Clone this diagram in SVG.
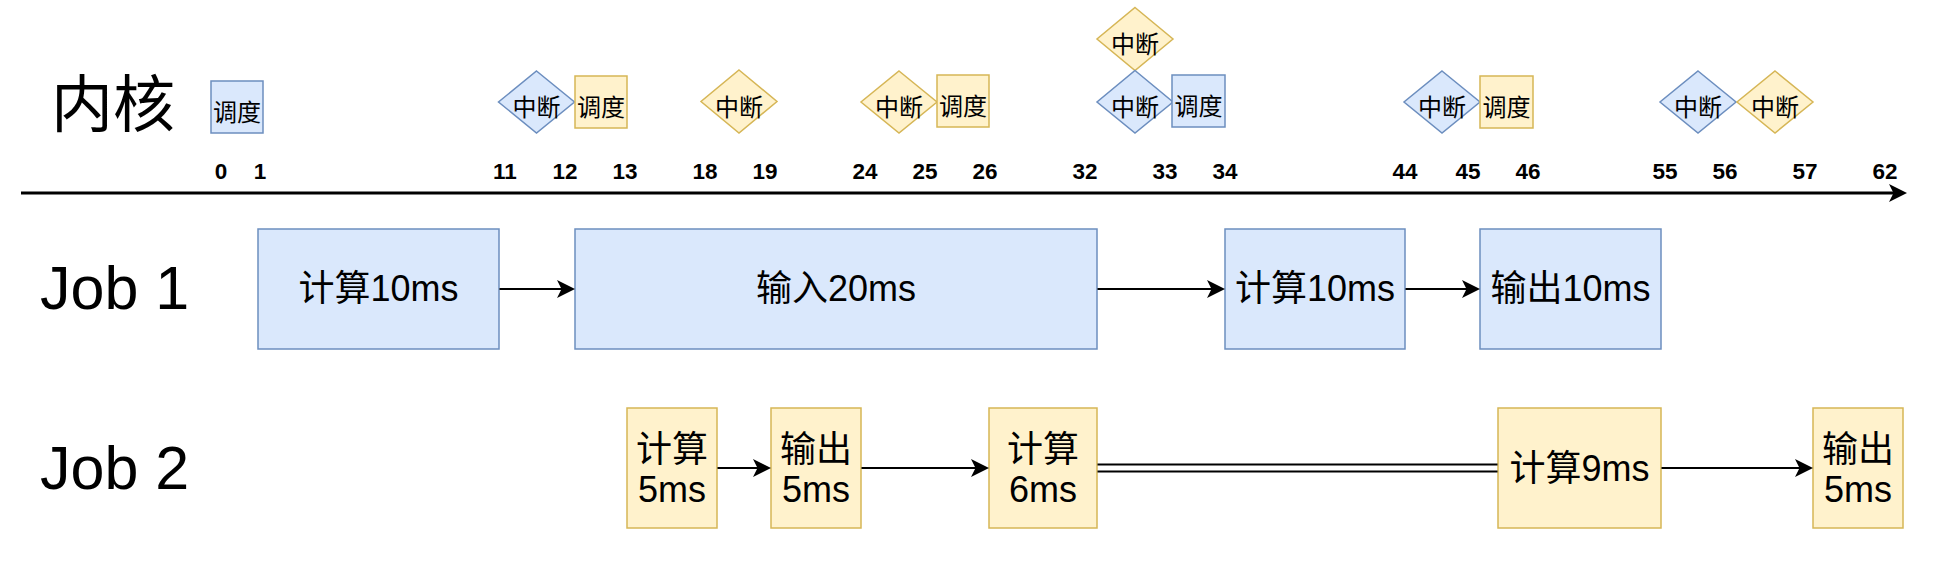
<svg xmlns="http://www.w3.org/2000/svg" width="1951" height="581" viewBox="0 0 1951 581">
<defs>
<style>
.blue{fill:#dae8fc;stroke:#6c8ebf;stroke-width:1.5}
.yel{fill:#fff2cc;stroke:#d6b656;stroke-width:1.5}
.t{font-family:"Liberation Sans","Noto Sans CJK SC",sans-serif;fill:#000;text-anchor:middle}
.sm{font-size:24px}
.md{font-size:36px}
.num{font-size:22.5px;font-weight:bold}
.big{font-size:61px;text-anchor:start}
.edge{stroke:#000;stroke-width:1.8;fill:none}
</style>
<marker id="arr" markerUnits="userSpaceOnUse" markerWidth="18" markerHeight="18" viewBox="0 0 18 18" refX="12" refY="9" orient="auto">
<path d="M0,0 L18,9 L0,18 L4.5,9 Z" fill="#000"/>
</marker>
</defs>
<rect width="1951" height="581" fill="#fff"/>

<g id="labels">
<text class="t" x="113" y="127" style="font-size:62px">内核</text>
<text class="t big" x="40" y="309">Job 1</text>
<text class="t big" x="40" y="489">Job 2</text>
</g>

<g id="ticks" class="t num">
<text x="221" y="179">0</text>
<text x="260" y="179">1</text>
<text x="505" y="179">11</text>
<text x="565" y="179">12</text>
<text x="625" y="179">13</text>
<text x="705" y="179">18</text>
<text x="765" y="179">19</text>
<text x="865" y="179">24</text>
<text x="925" y="179">25</text>
<text x="985" y="179">26</text>
<text x="1085" y="179">32</text>
<text x="1165" y="179">33</text>
<text x="1225" y="179">34</text>
<text x="1405" y="179">44</text>
<text x="1468" y="179">45</text>
<text x="1528" y="179">46</text>
<text x="1665" y="179">55</text>
<text x="1725" y="179">56</text>
<text x="1805" y="179">57</text>
<text x="1885" y="179">62</text>
</g>

<g id="kernel-sched-1"><rect class="blue" x="211" y="81" width="52" height="52"/><text class="t sm" x="237" y="121">调度</text></g>
<g id="kernel-int-1"><polygon class="blue" points="536.5,71 574.5,102 536.5,133 498.5,102"/><text class="t sm" x="536.5" y="116">中断</text></g>
<g id="kernel-sched-2"><rect class="yel" x="575" y="76" width="52" height="52"/><text class="t sm" x="601" y="116">调度</text></g>
<g id="kernel-int-2"><polygon class="yel" points="739,70 777,101.5 739,133 701,101.5"/><text class="t sm" x="739" y="116">中断</text></g>
<g id="kernel-int-3"><polygon class="yel" points="899,71 937,102 899,133 861,102"/><text class="t sm" x="899" y="116">中断</text></g>
<g id="kernel-sched-3"><rect class="yel" x="937" y="75" width="52" height="52"/><text class="t sm" x="963" y="115">调度</text></g>
<g id="kernel-int-4"><polygon class="yel" points="1135,7.5 1173,39 1135,70.5 1097,39"/><text class="t sm" x="1135" y="53">中断</text></g>
<g id="kernel-int-5"><polygon class="blue" points="1135,70.5 1173,102 1135,133 1097,102"/><text class="t sm" x="1135" y="116">中断</text></g>
<g id="kernel-sched-4"><rect class="blue" x="1172" y="75" width="53" height="52"/><text class="t sm" x="1198.5" y="115">调度</text></g>
<g id="kernel-int-6"><polygon class="blue" points="1442,71 1480,102 1442,133 1404,102"/><text class="t sm" x="1442" y="116">中断</text></g>
<g id="kernel-sched-5"><rect class="yel" x="1480" y="76" width="53" height="52"/><text class="t sm" x="1506.5" y="116">调度</text></g>
<g id="kernel-int-7"><polygon class="blue" points="1698,71 1736,102 1698,133 1660,102"/><text class="t sm" x="1698" y="116">中断</text></g>
<g id="kernel-int-8"><polygon class="yel" points="1775,71 1813,102 1775,133 1737,102"/><text class="t sm" x="1775" y="116">中断</text></g>

<g id="job1-calc1"><rect class="blue" x="258" y="229" width="241" height="120"/><text class="t md" x="378.5" y="301">计算10ms</text></g>
<g id="job1-input"><rect class="blue" x="575" y="229" width="522" height="120"/><text class="t md" x="836" y="301">输入20ms</text></g>
<g id="job1-calc2"><rect class="blue" x="1225" y="229" width="180" height="120"/><text class="t md" x="1315" y="301">计算10ms</text></g>
<g id="job1-output"><rect class="blue" x="1480" y="229" width="181" height="120"/><text class="t md" x="1570.5" y="301">输出10ms</text></g>

<g id="job2-calc1"><rect class="yel" x="627" y="408" width="90" height="120"/><text class="t md" x="672" y="462">计算</text><text class="t md" x="672" y="502">5ms</text></g>
<g id="job2-output1"><rect class="yel" x="771" y="408" width="90" height="120"/><text class="t md" x="816" y="462">输出</text><text class="t md" x="816" y="502">5ms</text></g>
<g id="job2-calc2"><rect class="yel" x="989" y="408" width="108" height="120"/><text class="t md" x="1043" y="462">计算</text><text class="t md" x="1043" y="502">6ms</text></g>
<g id="job2-calc3"><rect class="yel" x="1498" y="408" width="163" height="120"/><text class="t md" x="1579.5" y="481">计算9ms</text></g>
<g id="job2-output2"><rect class="yel" x="1813" y="408" width="90" height="120"/><text class="t md" x="1858" y="462">输出</text><text class="t md" x="1858" y="502">5ms</text></g>

<g id="connectors">
<line x1="21" y1="193" x2="1901" y2="193" stroke="#000" stroke-width="3" marker-end="url(#arr)"/>
<line class="edge" x1="499.5" y1="289" x2="569" y2="289" marker-end="url(#arr)"/>
<line class="edge" x1="1097.5" y1="289" x2="1219" y2="289" marker-end="url(#arr)"/>
<line class="edge" x1="1405.5" y1="289" x2="1474" y2="289" marker-end="url(#arr)"/>
<line class="edge" x1="717.5" y1="468" x2="765" y2="468" marker-end="url(#arr)"/>
<line class="edge" x1="861.5" y1="468" x2="983" y2="468" marker-end="url(#arr)"/>
<line class="edge" x1="1097.5" y1="464.5" x2="1497.5" y2="464.5"/>
<line class="edge" x1="1097.5" y1="471.5" x2="1497.5" y2="471.5"/>
<line class="edge" x1="1661.5" y1="468" x2="1807" y2="468" marker-end="url(#arr)"/>
</g>
</svg>
